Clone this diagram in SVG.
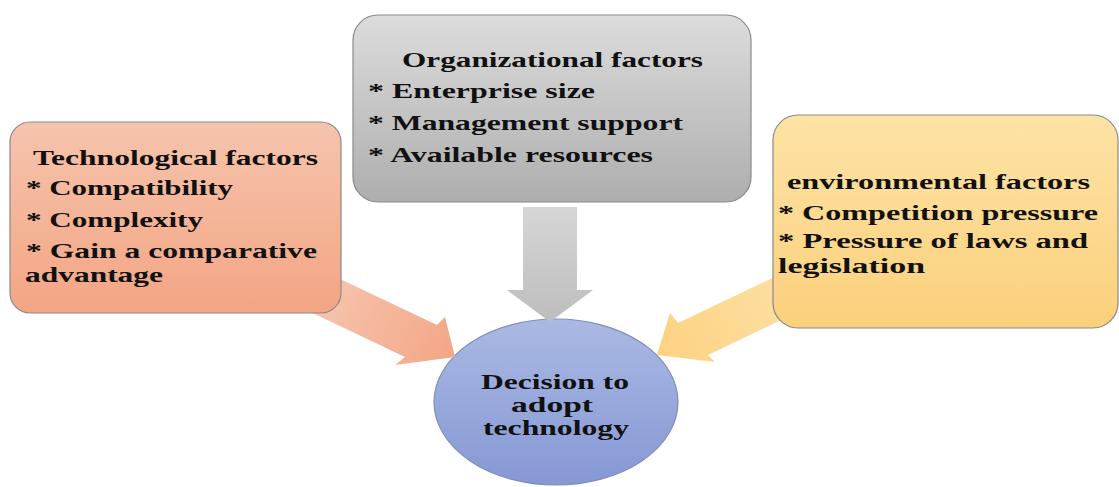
<svg xmlns="http://www.w3.org/2000/svg" width="1119" height="487" viewBox="0 0 1119 487">
  <defs>
    <linearGradient id="gTech" x1="0" y1="0" x2="0" y2="1">
      <stop offset="0" stop-color="#F6C4AD"/>
      <stop offset="1" stop-color="#F3A583"/>
    </linearGradient>
    <linearGradient id="gOrg" x1="0" y1="0" x2="0" y2="1">
      <stop offset="0" stop-color="#DCDCDC"/>
      <stop offset="1" stop-color="#AEAEAE"/>
    </linearGradient>
    <linearGradient id="gEnv" x1="0" y1="0" x2="0" y2="1">
      <stop offset="0" stop-color="#FDE3A6"/>
      <stop offset="1" stop-color="#FBD07B"/>
    </linearGradient>
    <linearGradient id="gDec" x1="0" y1="0" x2="0" y2="1">
      <stop offset="0" stop-color="#AAB9E3"/>
      <stop offset="1" stop-color="#8698D5"/>
    </linearGradient>
    <linearGradient id="aTech" gradientUnits="userSpaceOnUse" x1="320" y1="280" x2="450" y2="350">
      <stop offset="0" stop-color="#F6C6B0"/>
      <stop offset="1" stop-color="#F4A787"/>
    </linearGradient>
    <linearGradient id="aOrg" gradientUnits="userSpaceOnUse" x1="0" y1="207" x2="0" y2="322">
      <stop offset="0" stop-color="#D6D6D6"/>
      <stop offset="1" stop-color="#BDBDBD"/>
    </linearGradient>
    <linearGradient id="aEnv" gradientUnits="userSpaceOnUse" x1="790" y1="290" x2="660" y2="350">
      <stop offset="0" stop-color="#FDDFA2"/>
      <stop offset="1" stop-color="#FDD283"/>
    </linearGradient>
  </defs>
  <style>
    .box { stroke: #8A8A8A; stroke-width: 1.2; }
    .dec { stroke: #7F8FB8; stroke-width: 1.2; }
    .t { font-family: "Liberation Serif", "Times New Roman", serif; font-weight: bold; font-size: 22px; fill: #111111; }
    .c { font-family: "Liberation Serif", "Times New Roman", serif; font-weight: bold; font-size: 21px; fill: #111111; }
  </style>

  <!-- central decision ellipse -->
  <g id="decision">
    <ellipse cx="556" cy="402" rx="122" ry="83" fill="url(#gDec)" class="dec"/>
    <text class="c" x="481" y="389" textLength="148" lengthAdjust="spacingAndGlyphs">Decision to</text>
    <text class="c" x="511" y="412" textLength="82" lengthAdjust="spacingAndGlyphs">adopt</text>
    <text class="c" x="483" y="435" textLength="146" lengthAdjust="spacingAndGlyphs">technology</text>
  </g>

  <!-- block arrows feeding the decision -->
  <g id="connectors">
    <polygon points="300,260 437,325 445,317 455,357 395,365 405,357 300,307" fill="url(#aTech)"/>
    <polygon points="523,207 577,207 577,290 593,290 550,322 507,290 523,290" fill="url(#aOrg)"/>
    <polygon points="800,265 678,323 670,313 657,355 715,362 708,355 800,311" fill="url(#aEnv)"/>
  </g>

  <g id="technological">
    <rect x="10" y="122" width="331" height="191" rx="20" ry="20" fill="url(#gTech)" class="box"/>
    <text class="t" x="33" y="165" textLength="285" lengthAdjust="spacingAndGlyphs">Technological factors</text>
    <text class="t" x="26" y="195" textLength="207" lengthAdjust="spacingAndGlyphs">* Compatibility</text>
    <text class="t" x="26" y="227" textLength="177" lengthAdjust="spacingAndGlyphs">* Complexity</text>
    <text class="t" x="26" y="258" textLength="291" lengthAdjust="spacingAndGlyphs">* Gain a comparative</text>
    <text class="t" x="25" y="282" textLength="138" lengthAdjust="spacingAndGlyphs">advantage</text>
  </g>

  <g id="organizational">
    <rect x="353" y="15" width="398" height="187" rx="25" ry="25" fill="url(#gOrg)" class="box"/>
    <text class="t" x="402" y="67" textLength="301" lengthAdjust="spacingAndGlyphs">Organizational factors</text>
    <text class="t" x="368" y="98" textLength="227" lengthAdjust="spacingAndGlyphs">* Enterprise size</text>
    <text class="t" x="368" y="130" textLength="315" lengthAdjust="spacingAndGlyphs">* Management support</text>
    <text class="t" x="368" y="162" textLength="285" lengthAdjust="spacingAndGlyphs">* Available resources</text>
  </g>

  <g id="environmental">
    <rect x="773" y="115" width="345" height="213" rx="25" ry="25" fill="url(#gEnv)" class="box"/>
    <text class="t" x="787" y="189" textLength="303" lengthAdjust="spacingAndGlyphs">environmental factors</text>
    <text class="t" x="778" y="220" textLength="320" lengthAdjust="spacingAndGlyphs">* Competition pressure</text>
    <text class="t" x="778" y="248" textLength="310" lengthAdjust="spacingAndGlyphs">* Pressure of laws and</text>
    <text class="t" x="778" y="273" textLength="147" lengthAdjust="spacingAndGlyphs">legislation</text>
  </g>
</svg>
